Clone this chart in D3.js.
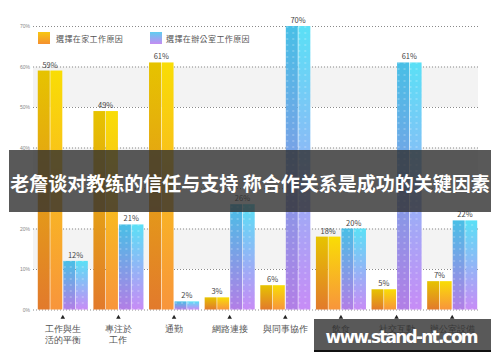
<!DOCTYPE html>
<html>
<head>
<meta charset="utf-8">
<script src="https://cdn.jsdelivr.net/npm/d3@7"></script>
<style>
  body { margin: 0; background: #fff; }
  svg { display: block; font-family: "Noto Sans CJK TC", "Noto Sans", sans-serif; }
</style>
</head>
<body>
<div id="chart"></div>
<script>
// chart data
const categories = ["工作與生\n活的平衡", "專注於\n工作", "通勤", "網路連接", "與同事協作", "飲食", "社交互動", "辦公室設備"];
const seriesNames = ["選擇在家工作原因", "選擇在辦公室工作原因"];
const homeValues = [59, 49, 61, 3, 6, 18, 5, 7];
const officeValues = [12, 21, 2, 26, 70, 20, 61, 22];
const yTicks = [0, 10, 20, 30, 40, 50, 60, 70];
const bannerTitle = "老詹谈对教练的信任与支持 称合作关系是成功的关键因素";
const watermark = "www.stand-nt.com";

const width = 500, height = 362;

const svg = d3.select("#chart")
  .append("svg")
  .attr("width", width)
  .attr("height", height);

const defs = svg.append("defs");

function addGradient(id, top, bottom) {
  let g = defs.append("linearGradient")
    .attr("id", id)
    .attr("x1", 0).attr("y1", 0)
    .attr("x2", 0).attr("y2", 1);
  g.append("stop").attr("offset", "0%").attr("stop-color", top);
  g.append("stop").attr("offset", "100%").attr("stop-color", bottom);
}
addGradient("homeL", "#e6c300", "#e27a2c");
addGradient("homeR", "#f9dd05", "#f8953c");
addGradient("offL", "#48bfe6", "#b27ee6");
addGradient("offR", "#5ae0f6", "#c78cf6");
addGradient("legHome", "#f7c712", "#f5902f");
addGradient("legOff", "#5fcdf0", "#c48cf2");

let pat = defs.append("pattern")
  .attr("id", "dots")
  .attr("patternUnits", "userSpaceOnUse")
  .attr("width", 6)
  .attr("height", 6);
pat.append("circle")
  .attr("cx", 3).attr("cy", 3).attr("r", 0.8)
  .attr("fill", "#fff").attr("fill-opacity", 0.45);

const x0 = d3.scaleBand()
  .domain(categories)
  .range([35, 480])
  .paddingInner(0.1)
  .paddingOuter(0.05);

const x1 = d3.scaleBand()
  .domain(["home", "office"])
  .range([0, x0.bandwidth()])
  .paddingInner(0.04);

const y = d3.scaleLinear().domain([0, 70]).range([309.5, 26]);

// alternating background bands
svg.selectAll("rect.band")
  .data([10, 30, 50])
  .enter().append("rect")
  .attr("class", "band")
  .attr("x", 33)
  .attr("width", 445)
  .attr("y", d => y(d + 10))
  .attr("height", d => y(d) - y(d + 10))
  .attr("fill", "#f3f3f3");

// y axis with dotted gridlines
let yAxis = d3.axisLeft(y)
  .tickValues(yTicks)
  .tickSize(-445)
  .tickPadding(3)
  .tickFormat(d => d + "%");

let yg = svg.append("g")
  .attr("class", "y axis")
  .attr("transform", "translate(33,0)")
  .call(yAxis);
yg.select(".domain").remove();
yg.selectAll("line")
  .attr("stroke", "#8a8a8a")
  .attr("stroke-dasharray", "1,2");
yg.selectAll("text")
  .attr("font-size", 5)
  .attr("fill", "#888");

// bars
const groups = svg.selectAll("g.group")
  .data(categories.map((c, i) => ({cat: c, home: homeValues[i], office: officeValues[i]})))
  .enter().append("g")
  .attr("class", "group")
  .attr("transform", d => "translate(" + x0(d.cat) + ",0)");

function drawBar(sel, key, gl, gr, dotted) {
  let bw = x1.bandwidth();
  let half = bw / 2;
  sel.append("rect")
    .attr("x", x1(key))
    .attr("y", d => y(d[key]))
    .attr("width", half - 0.3)
    .attr("height", d => y(0) - y(d[key]))
    .attr("fill", "url(#" + gl + ")");
  sel.append("rect")
    .attr("x", x1(key) + half + 0.3)
    .attr("y", d => y(d[key]))
    .attr("width", half - 0.3)
    .attr("height", d => y(0) - y(d[key]))
    .attr("fill", "url(#" + gr + ")");
  if (dotted) {
    sel.append("rect")
      .attr("x", x1(key))
      .attr("y", d => y(d[key]))
      .attr("width", bw)
      .attr("height", d => y(0) - y(d[key]))
      .attr("fill", "url(#dots)");
  }
  sel.append("text")
    .attr("x", x1(key) + half)
    .attr("y", d => y(d[key]) - 3)
    .attr("text-anchor", "middle")
    .attr("font-size", 7.5)
    .attr("fill", "#444")
    .text(d => d[key] + "%");
}
drawBar(groups, "home", "homeL", "homeR", false);
drawBar(groups, "office", "offL", "offR", true);

// x axis
let xAxis = d3.axisBottom(x0).tickSize(0).tickFormat("");
let xg = svg.append("g")
  .attr("class", "x axis")
  .attr("transform", "translate(0,310)")
  .call(xAxis);
xg.select(".domain").remove();

xg.selectAll(".tick").append("path")
  .attr("d", d3.symbol(d3.symbolTriangle, 9))
  .attr("transform", "translate(0,7.5)")
  .attr("fill", "#222");

xg.selectAll(".tick").append("text")
  .attr("fill", "#555")
  .attr("font-size", 8.5)
  .attr("text-anchor", "middle")
  .each(function(d) {
    let lines = d.split("\n");
    d3.select(this).selectAll("tspan")
      .data(lines)
      .enter().append("tspan")
      .attr("x", 0)
      .attr("y", (l, i) => 22 + i * 11)
      .text(l => l);
  });

// legend
const legend = svg.append("g").attr("class", "legend");
legend.selectAll("rect")
  .data(seriesNames)
  .enter().append("rect")
  .attr("x", (d, i) => i === 0 ? 38 : 150)
  .attr("y", 32)
  .attr("width", 12)
  .attr("height", 12)
  .attr("fill", (d, i) => i === 0 ? "url(#legHome)" : "url(#legOff)");
legend.selectAll("text")
  .data(seriesNames)
  .enter().append("text")
  .attr("x", (d, i) => i === 0 ? 56 : 166)
  .attr("y", 38)
  .attr("dominant-baseline", "central")
  .attr("font-size", 8)
  .attr("letter-spacing", 0.4)
  .attr("fill", "#555")
  .text(d => d);

// title banner overlay
svg.append("rect")
  .attr("x", 9).attr("y", 150)
  .attr("width", 482).attr("height", 62)
  .attr("fill", "rgb(48,48,48)")
  .attr("fill-opacity", 0.8);
svg.append("text")
  .attr("x", 250).attr("y", 182)
  .attr("text-anchor", "middle")
  .attr("dominant-baseline", "central")
  .attr("font-family", "Noto Sans CJK SC")
  .attr("font-weight", "bold")
  .attr("font-size", 19)
  .attr("fill", "#fff")
  .text(bannerTitle);

// watermark
svg.append("rect")
  .attr("x", 314).attr("y", 319)
  .attr("width", 177).attr("height", 32)
  .attr("fill", "rgb(48,48,48)")
  .attr("fill-opacity", 0.8);
svg.append("rect")
  .attr("x", 314).attr("y", 350)
  .attr("width", 177).attr("height", 2)
  .attr("fill", "#111");
svg.append("text")
  .attr("x", 402).attr("y", 337)
  .attr("text-anchor", "middle")
  .attr("dominant-baseline", "central")
  .attr("font-family", "DejaVu Sans")
  .attr("font-weight", "bold")
  .attr("font-size", 17)
  .attr("textLength", 153)
  .attr("fill", "#fff")
  .text(watermark);
</script>
</body>
</html>
